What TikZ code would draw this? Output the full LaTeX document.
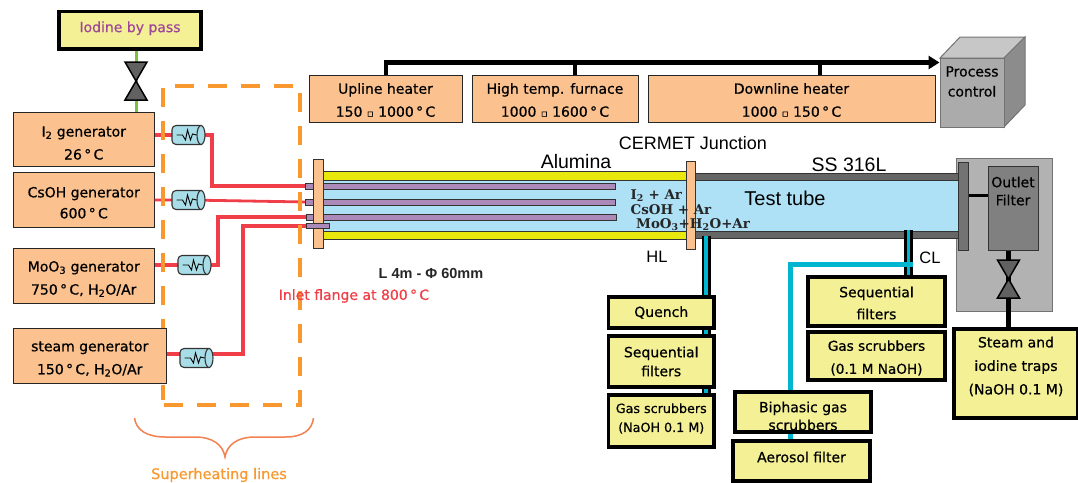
\documentclass[tikz,border=0pt]{standalone}
\usepackage{fontspec}
\setmainfont[RawFeature={embolden=0.6}]{DejaVu Sans}
\newfontfamily\arialf{Liberation Sans}
\newfontfamily\djserif{DejaVu Serif}
\usetikzlibrary{arrows.meta}
\definecolor{peach}{HTML}{FBC290}
\definecolor{boxy}{HTML}{F3F096}
\definecolor{redl}{HTML}{EF3E48}
\definecolor{orangel}{HTML}{F8982E}
\definecolor{braceo}{HTML}{F28050}
\definecolor{tubeb}{HTML}{AEE0F6}
\definecolor{yellowt}{HTML}{E8E80C}
\definecolor{purplet}{HTML}{AB8ABA}
\definecolor{cyanl}{HTML}{00B5D0}
\definecolor{greenl}{HTML}{7AC143}
\definecolor{heatc}{HTML}{A8DDE8}
\definecolor{darkl}{HTML}{333333}
\tikzset{
  peachbox/.style={draw=black!85,line width=1pt,fill=peach,align=center,font=\fontsize{14}{23}\selectfont},
  ybox/.style={draw=black,line width=3.5pt,fill=boxy,align=center,font=\fontsize{14}{22}\selectfont},
  part/.style={draw=darkl,line width=1pt},
  redline/.style={draw=redl,line width=3.5pt},
  pipeb/.style={draw=black,line width=9pt},
  pipec/.style={draw=cyanl,line width=3.5pt},
  ctrl/.style={draw=black,line width=4.5pt},
  valvet/.style={draw=black,line width=1.5pt,fill=black!62,line join=miter},
  lab/.style={font=\arialf\fontsize{18}{20}\selectfont,inner sep=0pt},
  gaslab/.style={font=\djserif\bfseries\fontsize{13.4}{15}\selectfont,inner sep=0pt,anchor=west,text=black!85}
}
% box with corners (#2,#3) (#4,#5), style #6, text #7 lowered by #8
\newcommand{\bx}[8]{%
  \pgfmathsetmacro\bxw{#4-#2}\pgfmathsetmacro\bxh{#5-#3}%
  \pgfmathsetmacro\bxx{(#4+#2)/2}\pgfmathsetmacro\bxy{(#5+#3)/2}%
  \pgfmathsetmacro\bxt{\bxy+#8}%
  \node[#6,minimum width=\bxw pt,minimum height=\bxh pt,inner sep=0pt] (#1) at (\bxx,\bxy) {};
  \if\relax\detokenize{#7}\relax\else
  \node[#6,draw=none,fill=none,inner sep=0pt] (#1t) at (\bxx,\bxt) {#7};
  \fi}
\newcommand{\heater}[3]{%
  \node[minimum width=33pt,minimum height=19pt,inner sep=0pt] (#1) at (#2,#3) {};
  \begin{scope}[shift={(#1.center)}]
  \draw[draw=darkl,line width=1.1pt,fill=heatc,rounded corners=4pt] (13,-9.5) -- (-16.5,-9.5) -- (-16.5,9.5) -- (13,9.5);
  \fill[heatc] (13,-9) rectangle (12,9);
  \draw[draw=darkl,line width=1.1pt,fill=heatc] (12.5,0) ellipse (4pt and 9.5pt);
  \draw[black,line width=.9pt] (-12,0) -- (-6,0) -- (-3,5) -- (-1,-5) -- (2,5) -- (4,-1) -- (8,0);
  \end{scope}}
\newcommand{\valve}[3]{%
  \coordinate (#1) at (#2,#3);
  \draw[valvet,shift={(#1)}] (-11,-19) -- (11,-19) -- (0,0) -- cycle;
  \draw[valvet,shift={(#1)}] (-11,19) -- (11,19) -- (0,0) -- cycle;}
\newcommand{\dg}{\,°\,C}
\newcommand{\sq}{{\fontsize{10}{10}\selectfont ▫}}
\begin{document}
\begin{tikzpicture}[x=1pt,y=-1pt]
\useasboundingbox (0,0) rectangle (1078,482);
\coordinate (in1) at (306,186);
\coordinate (in2) at (306,202);
\coordinate (in3) at (306,217);
\coordinate (in4) at (306,226);
\coordinate (h1c) at (188.5,135);
\coordinate (h2c) at (188.5,200);
\coordinate (h3c) at (194.5,265);
\coordinate (h4c) at (196.5,358);
\bx{i2}{13.5}{112}{154}{166}{peachbox}{I\textsubscript{2} generator\\26\dg}{4}
\bx{cs}{13.5}{172.5}{154}{227}{peachbox,font=\fontsize{14}{21}\selectfont}{CsOH generator\\600\dg}{3}
\bx{moo}{13.5}{248}{154}{303}{peachbox}{MoO\textsubscript{3} generator\\750\dg, H\textsubscript{2}O/Ar}{3.5}
% red lines
\draw[redline] (i2.east |- h1c) -- (h1c) -| (212,186) -- (in1);
\draw[redline,line width=2.8pt] (cs.east |- h2c) -- (h2c) -- (in2);
\draw[redline] (moo.east |- h3c) -- (h3c) -| (218,217) -- (in3);
\draw[redline] (166,354) -- (196,354) -| (243,226) -- (in4);
% green by-pass line
\bx{byp}{59}{11.5}{201}{49}{ybox}{\textcolor[HTML]{A0479A}{Iodine by pass}}{-2}
\draw[draw=greenl,line width=3pt] (byp.south -| 136,0) -- (i2.north -| 136,0);
\valve{v1}{136}{81}
% superheating frame
\draw[draw=orangel,line width=4pt,dash pattern=on 19pt off 14pt,dash phase=4pt] (163,400) -- (163,86) -- (300,86) -- (300,405) -- (163,405);
\bx{steam}{13.5}{328}{166}{383}{peachbox}{steam generator\\150\dg, H\textsubscript{2}O/Ar}{3.5}
\heater{h1}{188.5}{135}
\heater{h2}{188.5}{200}
\heater{h3}{194.5}{265}
\heater{h4}{196.5}{358}
% brace
\draw[draw=braceo,line width=1.5pt] (134.5,418) .. controls (136,430) and (147,437) .. (165,437) -- (195,437) .. controls (213,437) and (223,445) .. (225,457) .. controls (227,445) and (237,437) .. (255,437) -- (285,437) .. controls (303,437) and (312,430) .. (313.5,418);
\node[text=orangel,font=\fontsize{14.5}{16}\selectfont,inner sep=0pt] (suph) at (219,475) {Superheating lines};
% heater row
\coordinate (ctrlstart) at (386,62.5);
\bx{gray}{956}{158}{1052}{311}{draw=black!55,line width=1pt,fill=black!30}{}{0}
\bx{upl}{309}{75}{462}{122}{peachbox}{Upline heater\\150 \sq\ 1000\dg}{1.5}
\bx{htf}{472}{75}{638}{122}{peachbox}{High temp. furnace\\1000 \sq\ 1600\dg}{1.5}
\bx{dwn}{648}{75}{935}{122}{peachbox}{Downline heater\\1000 \sq\ 150\dg}{1.5}
% process control cube
\fill[black!22,draw=black!55,line width=1pt] (940,58) -- (960,37) -- (1025,37) -- (1004,58) -- cycle;
\fill[black!45,draw=black!55,line width=1pt] (1004,58) -- (1025,37) -- (1025,105) -- (1004,127) -- cycle;
\bx{pc}{940}{58}{1004}{127}{draw=black!55,line width=1pt,fill=black!33,align=center,font=\fontsize{14}{20}\selectfont}{Process\\control}{-11}
\draw[ctrl,-{Triangle[length=11pt,width=13pt]}] (upl.north -| ctrlstart) -- (ctrlstart) -- (pc.west |- ctrlstart);
\draw[ctrl] (htf.north -| 575,0) -- (575,62.5);
\draw[ctrl] (dwn.north -| 820,0) -- (820,62.5);
% test tube
\bx{tube}{323}{180}{958}{231}{draw=none,fill=tubeb}{}{0}
\bx{al1}{323}{171.5}{686}{180}{part,fill=yellowt}{}{0}
\bx{al2}{323}{231}{686}{239.5}{part,fill=yellowt}{}{0}
\bx{ss1}{695}{173}{958}{180}{part,fill=black!60}{}{0}
\bx{ss2}{695}{231}{958}{238}{part,fill=black!60}{}{0}
\bx{p1}{305}{183.5}{615}{189}{part,fill=purplet}{}{0}
\bx{p2}{305}{199.5}{615}{205}{part,fill=purplet}{}{0}
\bx{p3}{306}{214}{616}{220.5}{part,fill=purplet}{}{0}
\bx{fl}{313.5}{159}{323}{248}{part,fill=peach}{}{0}
\bx{p4}{306.5}{223}{329}{228.5}{part,fill=purplet}{}{0}
\bx{cj}{686}{161.5}{695.5}{249}{part,fill=peach}{}{0}
\bx{plate}{958}{162}{968}{250}{part,fill=black!55}{}{0}
\bx{filt}{988}{166}{1038}{250}{part,fill=black!50,align=center,font=\fontsize{14}{18}\selectfont}{Outlet\\Filter}{-17}
\draw[draw=black,line width=3pt] (plate.east |- 0,195) -- (filt.west |- 0,195);
% tube labels
\node[lab,font=\arialf\fontsize{19.5}{22}\selectfont] (alum) at (576,162) {Alumina};
\node[lab] (cerm) at (693,143) {CERMET Junction};
\node[lab,font=\arialf\fontsize{19.5}{22}\selectfont] (ssl) at (849,165) {SS 316L};
\node[lab,font=\arialf\fontsize{16.5}{18}\selectfont] (hl) at (657,257) {HL};
\node[lab,font=\arialf\fontsize{16.5}{18}\selectfont] (cl) at (930,258) {CL};
\node[lab,font=\arialf\fontsize{20}{22}\selectfont] (tt) at (785,198) {Test tube};
\node[gaslab] (g1) at (630.5,195.5) {I\textsubscript{2} + Ar};
\node[gaslab] (g2) at (630.5,210) {CsOH + Ar};
\node[gaslab] (g3) at (636,225) {MoO\textsubscript{3}+H\textsubscript{2}O+Ar};
\node[font=\arialf\bfseries\fontsize{14.5}{16}\selectfont,text=black!85,inner sep=0pt] (lphi) at (431,274) {L 4m - Φ 60mm};
\node[text=redl,font=\fontsize{14}{16}\selectfont,inner sep=0pt] (infl) at (354,296) {Inlet flange at 800\dg};
% hot-leg branch
\bx{gs1}{608.5}{395}{714}{447}{ybox,font=\fontsize{12.7}{19}\selectfont}{Gas scrubbers\\(NaOH 0.1 M)}{-2.5}
\coordinate (hltop) at (706,236);
\bx{qu}{608.5}{297}{714}{328}{ybox}{Quench}{0}
\bx{sf1}{608.5}{336}{714}{387}{ybox,font=\fontsize{14}{19}\selectfont}{Sequential\\filters}{0}
\draw[pipeb] (hltop) -- (qu.north -| hltop);
\draw[pipec] (hltop) -- (qu.north -| hltop);
\draw[pipeb] (qu.south -| hltop) -- (sf1.north -| hltop);
\draw[pipec] (qu.south -| hltop) -- (sf1.north -| hltop);
\draw[pipeb] (sf1.south -| hltop) -- (gs1.north -| hltop);
\draw[pipec] (sf1.south -| hltop) -- (gs1.north -| hltop);
% cold-leg branch
\bx{sf2}{808}{277}{945}{326}{ybox}{Sequential\\filters}{1.5}
\coordinate (cltop) at (908.5,230);
\draw[pipeb] (cltop) -- (sf2.north -| cltop);
\draw[pipec] (cltop) -- (sf2.north -| cltop);
\bx{gs2}{808}{332}{945}{380}{ybox,font=\fontsize{13.6}{23}\selectfont}{Gas scrubbers\\(0.1 M NaOH)}{2}
\coordinate (clj) at (913,264);
\bx{aer}{733}{441}{870}{481}{ybox}{Aerosol filter}{-4}
\draw[draw=cyanl,line width=5pt] (clj) -| (aer.north -| 790,0);
\bx{bi}{735}{392}{871}{432}{ybox,font=\fontsize{14}{18}\selectfont}{Biphasic gas\\scrubbers}{4}
% outlet line
\bx{trap}{954}{329}{1078}{418}{ybox,font=\fontsize{14}{23.5}\selectfont}{Steam and\\iodine traps\\(NaOH 0.1 M)}{-7}
\draw[draw=black,line width=4.5pt] (filt.south -| 1008.5,0) -- (trap.north -| 1008.5,0);
\valve{v2}{1008.5}{279}
\end{tikzpicture}
\end{document}
